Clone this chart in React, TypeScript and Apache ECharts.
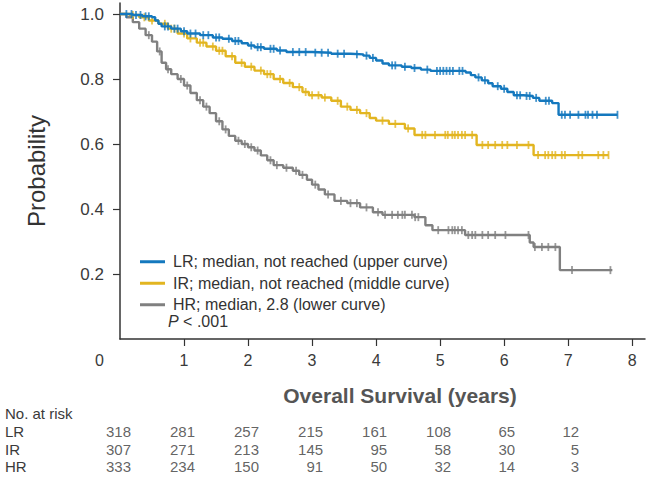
import { useEffect, useRef } from 'react';
import * as echarts from 'echarts';

const FONT = '"Liberation Sans", Arial, Helvetica, sans-serif';

const xTicks = [0, 1, 2, 3, 4, 5, 6, 7, 8];
const yTicks = [0.2, 0.4, 0.6, 0.8, 1.0];
const groups = ['LR', 'IR', 'HR'];
const seriesNames = [
  'LR; median, not reached (upper curve)',
  'IR; median, not reached (middle curve)',
  'HR; median, 2.8 (lower curve)',
];
const colors = ['#1478be', '#e2b520', '#808080'];

// Kaplan-Meier steps [time (years), survival probability]
const lrSteps: [number, number][] = [
  [0, 1], [0.2, 0.997], [0.35, 0.993], [0.5, 0.99], [0.55, 0.98], [0.6, 0.97], [0.65, 0.962],
  [0.8, 0.955], [0.95, 0.947], [1.05, 0.94], [1.25, 0.935], [1.45, 0.928], [1.6, 0.924],
  [1.75, 0.917], [1.9, 0.91], [2.0, 0.903], [2.1, 0.898], [2.25, 0.893], [2.45, 0.888],
  [2.6, 0.883], [3.0, 0.881], [3.3, 0.878], [3.6, 0.876], [3.8, 0.872], [3.9, 0.865],
  [4.0, 0.857], [4.1, 0.848], [4.2, 0.842], [4.4, 0.838], [4.55, 0.834], [4.7, 0.829],
  [4.85, 0.825], [5.4, 0.82], [5.48, 0.812], [5.55, 0.805], [5.65, 0.796], [5.75, 0.787],
  [5.82, 0.778], [5.95, 0.77], [6.05, 0.76], [6.15, 0.75], [6.3, 0.748], [6.45, 0.742],
  [6.55, 0.733], [6.75, 0.726], [6.85, 0.69], [7.77, 0.69],
];
const irSteps: [number, number][] = [
  [0, 1], [0.15, 0.997], [0.3, 0.99], [0.45, 0.98], [0.6, 0.97], [0.75, 0.955], [0.9, 0.94],
  [1.05, 0.925], [1.2, 0.912], [1.35, 0.9], [1.5, 0.887], [1.65, 0.87], [1.8, 0.85],
  [1.95, 0.838], [2.1, 0.826], [2.25, 0.815], [2.4, 0.8], [2.55, 0.788], [2.7, 0.775],
  [2.85, 0.76], [2.95, 0.75], [3.15, 0.743], [3.3, 0.733], [3.45, 0.715], [3.6, 0.705],
  [3.75, 0.695], [3.9, 0.68], [4.0, 0.672], [4.2, 0.662], [4.45, 0.648], [4.6, 0.628],
  [5.57, 0.597], [6.46, 0.566], [7.63, 0.566],
];
const hrSteps: [number, number][] = [
  [0, 1], [0.1, 0.99], [0.2, 0.975], [0.3, 0.955], [0.4, 0.935], [0.5, 0.915], [0.58, 0.885],
  [0.65, 0.85], [0.72, 0.83], [0.8, 0.815], [0.9, 0.8], [1.0, 0.78], [1.1, 0.757], [1.2, 0.735],
  [1.3, 0.715], [1.4, 0.695], [1.5, 0.67], [1.6, 0.645], [1.7, 0.625], [1.8, 0.61], [1.9, 0.6],
  [2.0, 0.59], [2.1, 0.58], [2.2, 0.565], [2.3, 0.55], [2.4, 0.535], [2.55, 0.527], [2.7, 0.518],
  [2.8, 0.505], [2.92, 0.49], [3.0, 0.475], [3.1, 0.46], [3.2, 0.445], [3.35, 0.425],
  [3.55, 0.418], [3.75, 0.405], [3.95, 0.39], [4.1, 0.382], [4.6, 0.375], [4.77, 0.35],
  [4.88, 0.335], [5.39, 0.32], [6.4, 0.297], [6.46, 0.283], [6.87, 0.212], [7.69, 0.212],
];

// censoring times (years)
const lrCensor = [
  0.1, 0.18, 0.25, 0.32, 0.4, 0.45, 0.7, 0.75, 0.85, 0.9, 1.0, 1.1, 1.18, 1.3, 1.38, 1.5, 1.55,
  1.7, 1.8, 1.85, 2.05, 2.15, 2.2, 2.35, 2.4, 2.5, 2.7, 2.8, 2.9, 3.05, 3.15, 3.25, 3.4, 3.5,
  3.7, 3.85, 3.95, 4.25, 4.3, 4.45, 4.6, 4.8, 4.95, 5.0, 5.05, 5.1, 5.15, 5.2, 5.3, 5.35, 5.6,
  5.7, 5.9, 6.0, 6.2, 6.25, 6.35, 6.4, 6.5, 6.65, 6.7, 6.9, 6.95, 7.03, 7.16, 7.27, 7.31, 7.38,
  7.45, 7.77,
];
const irCensor = [
  0.2, 0.38, 0.5, 0.7, 0.8, 0.85, 1.0, 1.1, 1.25, 1.3, 1.45, 1.55, 1.6, 1.75, 1.9, 2.05, 2.2,
  2.3, 2.35, 2.5, 2.65, 2.8, 2.9, 3.0, 3.1, 3.2, 3.4, 3.55, 3.7, 3.85, 4.1, 4.3, 4.5, 4.72,
  4.77, 4.92, 5.08, 5.12, 5.19, 5.23, 5.28, 5.34, 5.39, 5.5, 5.66, 5.75, 5.86, 5.97, 6.05, 6.2,
  6.38, 6.53, 6.64, 6.69, 6.75, 6.8, 6.9, 6.95, 7.16, 7.22, 7.47, 7.55, 7.63,
];
const hrCensor = [
  0.45, 0.62, 0.75, 0.95, 1.05, 1.25, 1.35, 1.55, 1.65, 1.85, 1.95, 2.05, 2.15, 2.35, 2.45,
  2.6, 2.75, 2.85, 3.05, 3.25, 3.45, 3.6, 3.7, 3.85, 4.03, 4.14, 4.25, 4.34, 4.41, 4.45, 4.56,
  4.61, 4.66, 4.97, 5.13, 5.19, 5.23, 5.28, 5.34, 5.44, 5.5, 5.55, 5.66, 5.75, 5.86, 6.02,
  6.38, 6.48, 6.59, 6.69, 6.8, 7.06, 7.66,
];

// numbers at risk
const riskTimes = [0, 1, 2, 3, 4, 5, 6, 7];
const lrRisk = [318, 281, 257, 215, 161, 108, 65, 12];
const irRisk = [307, 271, 213, 145, 95, 58, 30, 5];
const hrRisk = [333, 234, 150, 91, 50, 32, 14, 3];

function survivalAt(steps: [number, number][], t: number) {
  let s = steps[0][1];
  for (const [time, v] of steps) {
    if (time <= t) s = v;
    else break;
  }
  return s;
}

export default function App() {
  const ref = useRef<HTMLDivElement>(null);

  useEffect(() => {
    if (!ref.current) return;
    const chart = echarts.init(ref.current, null, { renderer: 'svg' });
    const stepsAll = [lrSteps, irSteps, hrSteps];
    const censorAll = [lrCensor, irCensor, hrCensor];
    const riskAll = [lrRisk, irRisk, hrRisk];
    const axisColor = '#333';
    const labelColor = '#3a3a3a';

    const lineSeries: any[] = [2, 1, 0].map((i) => ({
      name: seriesNames[i],
      type: 'line',
      step: 'end',
      showSymbol: false,
      symbol: 'none',
      data: stepsAll[i],
      lineStyle: { color: colors[i], width: 2.4 },
      itemStyle: { color: colors[i] },
      z: 3 + (2 - i),
      silent: true,
    }));
    const censorSeries: any[] = [2, 1, 0].map((i) => ({
      name: groups[i] + ' censored',
      type: 'scatter',
      symbol: 'rect',
      symbolSize: [1.8, 8],
      data: censorAll[i].map((t) => [t, survivalAt(stepsAll[i], t)]),
      itemStyle: { color: colors[i] },
      z: 3 + (2 - i),
      silent: true,
    }));
    const riskSeries: any[] = [0, 1, 2].map((i) => ({
      name: groups[i] + ' at risk',
      type: 'scatter',
      xAxisIndex: 1,
      yAxisIndex: 1,
      symbolSize: 1,
      itemStyle: { color: 'rgba(0,0,0,0)' },
      data: riskTimes.map((t, k) => [t, groups[i], riskAll[i][k]]),
      label: {
        show: true,
        position: 'inside',
        align: 'right',
        verticalAlign: 'middle',
        offset: [11, 0],
        formatter: (p: any) => String(p.value[2]),
        fontSize: 15,
        color: labelColor,
        fontFamily: FONT,
      },
      silent: true,
    }));

    chart.setOption({
      animation: false,
      textStyle: { fontFamily: FONT },
      grid: [
        { left: 120, right: 5, top: 3, bottom: 141 },
        { left: 120, right: 5, top: 423, height: 52.5 },
      ],
      xAxis: [
        {
          type: 'value',
          min: 0,
          max: 8.2,
          axisLine: { show: true, lineStyle: { color: axisColor, width: 1.5 } },
          axisTick: {
            show: true,
            length: 7,
            customValues: xTicks.slice(1),
            lineStyle: { color: axisColor, width: 1.2 },
          },
          axisLabel: {
            customValues: xTicks,
            fontSize: 16,
            color: labelColor,
            margin: 13,
            formatter: (v: number) => (v === 0 ? '{z|0}' : String(v)),
            rich: { z: { fontSize: 16, color: labelColor, padding: [0, 41, 0, 0] } },
          },
          splitLine: { show: false },
        },
        { type: 'value', gridIndex: 1, min: 0, max: 8.2, show: false },
      ],
      yAxis: [
        {
          type: 'value',
          min: 0,
          max: 1.034,
          axisLine: { show: true, lineStyle: { color: axisColor, width: 1.5 } },
          axisTick: {
            show: true,
            length: 7,
            customValues: yTicks,
            lineStyle: { color: axisColor, width: 1.2 },
          },
          axisLabel: {
            customValues: yTicks,
            formatter: (v: number) => v.toFixed(1),
            fontSize: 17,
            color: labelColor,
            margin: 16,
          },
          splitLine: { show: false },
          name: 'Probability',
          nameLocation: 'middle',
          nameGap: 72,
          nameTextStyle: { fontSize: 24, color: '#333' },
        },
        {
          type: 'category',
          gridIndex: 1,
          data: groups,
          inverse: true,
          axisLine: { show: false },
          axisTick: { show: false },
          axisLabel: { interval: 0, align: 'left', margin: 115, fontSize: 15, color: labelColor },
          splitLine: { show: false },
        },
      ],
      legend: {
        data: seriesNames,
        orient: 'vertical',
        left: 135,
        top: 246,
        itemWidth: 25,
        itemHeight: 3,
        itemGap: 0,
        icon: 'rect',
        selectedMode: false,
        textStyle: {
          fontSize: 16,
          color: '#333',
          lineHeight: 21.5,
          padding: [0, 0, 0, 3],
        },
      },
      graphic: [
        {
          type: 'text',
          x: 168,
          y: 321,
          style: {
            text: '{i|P} < .001',
            textVerticalAlign: 'middle',
            fill: '#333',
            font: '16px ' + FONT,
            rich: { i: { fontStyle: 'italic', fontSize: 16, fontFamily: FONT, fill: '#333' } },
          },
        },
        {
          type: 'text',
          x: 400,
          y: 395,
          style: {
            text: 'Overall Survival (years)',
            textAlign: 'center',
            textVerticalAlign: 'middle',
            fill: '#555',
            font: 'bold 21px ' + FONT,
          },
        },
        {
          type: 'text',
          x: 5,
          y: 413,
          style: {
            text: 'No. at risk',
            textVerticalAlign: 'middle',
            fill: labelColor,
            font: '15px ' + FONT,
          },
        },
      ],
      series: [...lineSeries, ...censorSeries, ...riskSeries],
    });

    return () => chart.dispose();
  }, []);

  return (
    <div
      ref={ref}
      style={{ position: 'absolute', left: 0, top: 0, width: 650, height: 480, background: '#fff' }}
    />
  );
}
